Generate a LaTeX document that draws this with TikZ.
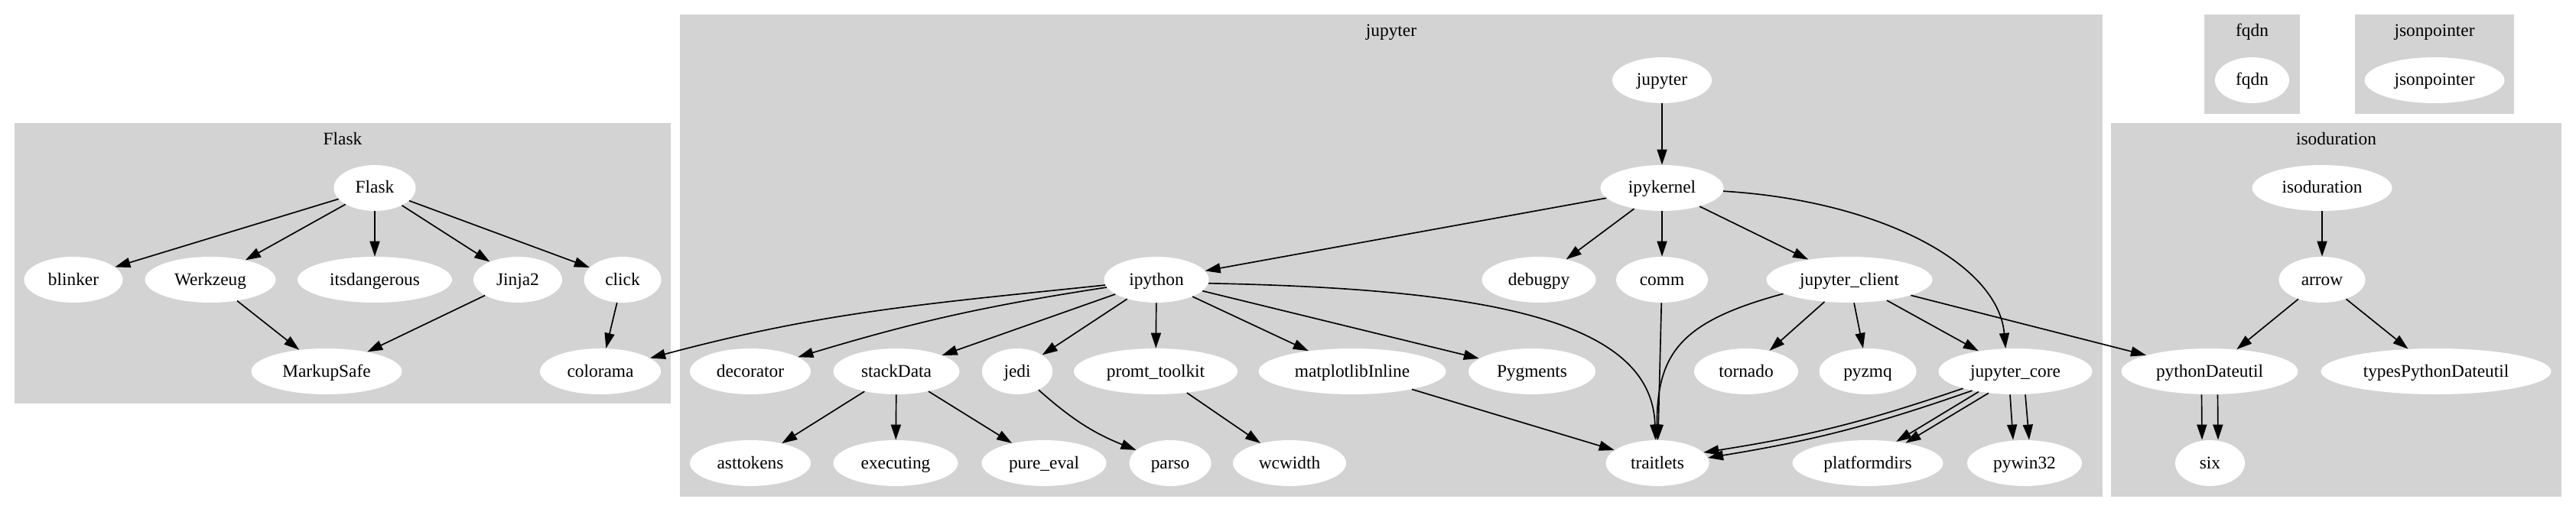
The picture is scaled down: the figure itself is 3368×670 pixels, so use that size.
\documentclass[tikz,border=0pt]{standalone}
\usepackage{fontspec}
\setmainfont{Liberation Serif}
\usetikzlibrary{shapes.geometric,arrows.meta}
\definecolor{gvgrey}{HTML}{D3D3D3}
\begin{document}
\begin{tikzpicture}[x=0.6pt,y=0.6pt,
  nd/.style={ellipse,fill=white,inner sep=0pt,minimum height=36pt,
    text height=10pt,text depth=1.6pt,font=\fontsize{14}{16}\selectfont},
  e/.style={line width=1pt,-{Triangle[length=12pt,width=7.8pt]}},
  clus/.style={fill=gvgrey},
  clab/.style={anchor=base,inner sep=0pt,font=\fontsize{14}{16}\selectfont}]
\useasboundingbox (0,0) rectangle (3368,-670);
\fill[white] (0,0) rectangle (3368,-670);
% clusters
\fill[clus] (19,-161) rectangle (877,-528);
\fill[clus] (889,-19) rectangle (2749,-650);
\fill[clus] (2882,-19) rectangle (3007,-149);
\fill[clus] (3079,-19) rectangle (3287,-149);
\fill[clus] (2760,-161) rectangle (3349,-650);
\node[clab] (lFlask) at (448,-189.5) {Flask};
\node[clab] (lJup) at (1819,-47.5) {jupyter};
\node[clab] (lFqdn) at (2944.5,-47.5) {fqdn};
\node[clab] (lJson) at (3183,-47.5) {jsonpointer};
\node[clab] (lIso) at (3054.5,-189.5) {isoduration};
% Flask nodes
\node[nd,minimum width=64.2pt] (fl) at (490,-246) {Flask};
\node[nd,minimum width=77.4pt] (bl) at (96,-366) {blinker};
\node[nd,minimum width=102.6pt] (wz) at (275,-366) {Werkzeug};
\node[nd,minimum width=121.2pt] (its) at (490,-366) {itsdangerous};
\node[nd,minimum width=69.6pt] (jj) at (677,-366) {Jinja2};
\node[nd,minimum width=60.6pt] (ck) at (814,-366) {click};
\node[nd,minimum width=118.2pt] (ms) at (427,-486) {MarkupSafe};
\node[nd,minimum width=94.8pt] (col) at (785,-486) {colorama};
% jupyter nodes
\node[nd,minimum width=78pt] (jup) at (2173,-105) {jupyter};
\node[nd,minimum width=96.6pt] (ipk) at (2173,-246) {ipykernel};
\node[nd,minimum width=82.2pt] (ipy) at (1512,-366) {ipython};
\node[nd,minimum width=89.4pt] (dbg) at (2012,-366) {debugpy};
\node[nd,minimum width=72pt] (comm) at (2173,-366) {comm};
\node[nd,minimum width=130.2pt] (jcl) at (2418,-366) {jupyter\_client};
\node[nd,minimum width=94.8pt] (dec) at (981,-486) {decorator};
\node[nd,minimum width=99pt] (sd) at (1172,-486) {stackData};
\node[nd,minimum width=55.2pt] (jedi) at (1330,-486) {jedi};
\node[nd,minimum width=128.4pt] (pt) at (1511,-486) {promt\_toolkit};
\node[nd,minimum width=147pt] (mpl) at (1768,-486) {matplotlibInline};
\node[nd,minimum width=99.6pt] (pyg) at (2003,-486) {Pygments};
\node[nd,minimum width=81.6pt] (tor) at (2283,-486) {tornado};
\node[nd,minimum width=76.2pt] (zmq) at (2442,-486) {pyzmq};
\node[nd,minimum width=120.6pt] (jc) at (2635,-486) {jupyter\_core};
\node[nd,minimum width=94.8pt] (ast) at (981,-606) {asttokens};
\node[nd,minimum width=97.8pt] (exe) at (1171,-606) {executing};
\node[nd,minimum width=97.8pt] (pe) at (1365,-606) {pure\_eval};
\node[nd,minimum width=64.2pt] (parso) at (1530,-606) {parso};
\node[nd,minimum width=88.8pt] (wcw) at (1686,-606) {wcwidth};
\node[nd,minimum width=81pt] (tr) at (2167,-606) {traitlets};
\node[nd,minimum width=118.2pt] (pf) at (2442,-606) {platformdirs};
\node[nd,minimum width=90pt] (pw) at (2647,-606) {pywin32};
% other clusters
\node[nd,minimum width=58.2pt] (fqdn) at (2944.5,-105) {fqdn};
\node[nd,minimum width=109.8pt] (json) at (3183,-105) {jsonpointer};
\node[nd,minimum width=109.8pt] (iso) at (3036,-246) {isoduration};
\node[nd,minimum width=67.8pt] (arr) at (3036,-366) {arrow};
\node[nd,minimum width=138.6pt] (pd) at (2889,-486) {pythonDateutil};
\node[nd,minimum width=180.6pt] (tpd) at (3185,-486) {typesPythonDateutil};
\node[nd,minimum width=54.6pt] (six) at (2889.5,-606) {six};
% Flask edges
\draw[e] (fl) -- (bl);
\draw[e] (fl) -- (wz);
\draw[e] (fl) -- (its);
\draw[e] (fl) -- (jj);
\draw[e] (fl) -- (ck);
\draw[e] (wz) -- (ms);
\draw[e] (jj) -- (ms);
\draw[e] (ck) -- (col);
% jupyter edges
\draw[e] (jup) -- (ipk);
\draw[e] (ipk) -- (ipy);
\draw[e] (ipk) -- (dbg);
\draw[e] (ipk) -- (comm);
\draw[e] (ipk) -- (jcl);
\draw[e] (ipk.-3) .. controls (2453,-262) and (2612,-343) .. (jc.113);
\draw[e] (ipy) to[out=186,in=15] (col);
\draw[e] (ipy) to[bend right=4] (dec);
\draw[e] (ipy) -- (sd);
\draw[e] (ipy) -- (jedi);
\draw[e] (ipy) -- (pt);
\draw[e] (ipy) -- (mpl);
\draw[e] (ipy) -- (pyg);
\draw[e] (ipy.-4) .. controls (1950,-378) and (2160,-420) .. (tr.95);
\draw[e] (sd) -- (ast);
\draw[e] (sd) -- (exe);
\draw[e] (sd) -- (pe);
\draw[e] (jedi) to[bend right=10] (parso);
\draw[e] (pt) -- (wcw);
\draw[e] (mpl) -- (tr);
\draw[e] (comm) -- (tr);
\draw[e] (jcl.192) .. controls (2200,-420) and (2166,-460) .. (tr.91);
\draw[e] (jcl) -- (tor);
\draw[e] (jcl) -- (zmq);
\draw[e] (jcl) -- (jc);
\draw[e] (jcl) -- (pd);
\draw[e] (jc.198) to[bend left=5] (tr.13);
\draw[e] (jc.204) to[bend left=5] (tr.6);
\draw[e] (jc.209) -- (pf.37);
\draw[e] (jc.219) -- (pf.28);
\draw[e] ([xshift=-4.2pt]jc.south) -- ([xshift=-9pt]pw.north);
\draw[e] ([xshift=7.8pt]jc.south) -- ([xshift=3.6pt]pw.north);
% isoduration edges
\draw[e] (iso) -- (arr);
\draw[e] (arr) -- (pd);
\draw[e] (arr) -- (tpd);
\draw[e] ([xshift=-6.3pt]pd.south) -- ([xshift=-6.3pt]six.north);
\draw[e] ([xshift=6.3pt]pd.south) -- ([xshift=6.3pt]six.north);
\end{tikzpicture}
\end{document}
